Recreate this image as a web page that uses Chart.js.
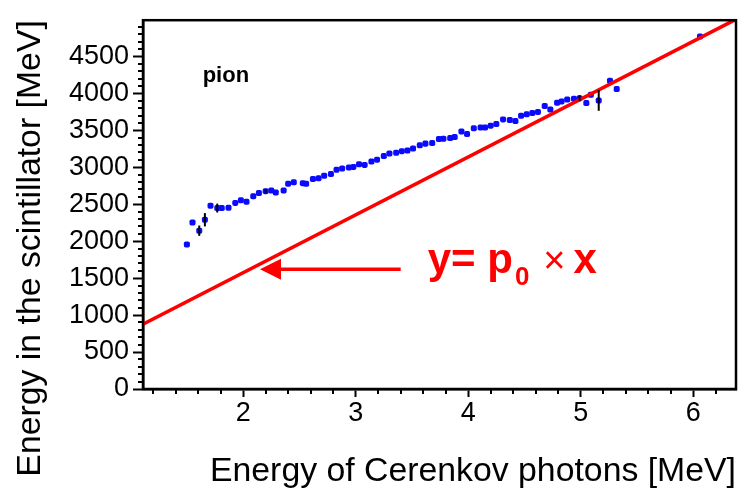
<!DOCTYPE html>
<html>
<head>
<meta charset="utf-8">
<script src="https://cdn.jsdelivr.net/npm/chart.js@4/dist/chart.umd.min.js"></script>
<style>
  html, body { margin: 0; padding: 0; background: #fff; }
  #wrap { width: 742px; height: 492px; }
</style>
</head>
<body>
<div id="wrap"><canvas id="c"></canvas></div>
<script>
// pion: energy of Cerenkov photons vs energy deposited in scintillator
const cerenkovE = [1.50, 1.55, 1.61, 1.66, 1.71, 1.77, 1.81, 1.87, 1.93, 1.98,
    2.03, 2.09, 2.14, 2.20, 2.25, 2.29, 2.36, 2.40, 2.45, 2.53,
    2.56, 2.62, 2.67, 2.72, 2.78, 2.83, 2.88, 2.94, 2.98, 3.03,
    3.08, 3.14, 3.19, 3.25, 3.30, 3.36, 3.41, 3.46, 3.51, 3.57,
    3.62, 3.68, 3.74, 3.78, 3.84, 3.88, 3.94, 3.99, 4.05, 4.11,
    4.15, 4.20, 4.25, 4.31, 4.37, 4.42, 4.47, 4.52, 4.57, 4.62,
    4.68, 4.73, 4.79, 4.83, 4.88, 4.94, 4.99, 5.05, 5.09, 5.16,
    5.26, 5.32, 6.06];
const scintE = [1956, 2253, 2142, 2290, 2479, 2448, 2448, 2453, 2518, 2553,
    2532, 2607, 2651, 2677, 2686, 2659, 2686, 2776, 2798, 2785,
    2776, 2842, 2851, 2886, 2910, 2966, 2984, 2997, 3005, 3041,
    3032, 3077, 3103, 3151, 3187, 3196, 3218, 3227, 3254, 3297,
    3320, 3329, 3382, 3386, 3395, 3409, 3484, 3449, 3528, 3537,
    3537, 3563, 3586, 3648, 3639, 3625, 3696, 3718, 3735, 3749,
    3829, 3781, 3874, 3891, 3918, 3927, 3935, 3869, 3980, 3904,
    4170, 4060, 4768];
const scintErr = [0, 0, 70, 90, 0, 60, 0, 0, 0, 0,
    0, 0, 0, 30, 0, 0, 0, 0, 0, 0,
    0, 0, 0, 0, 0, 0, 0, 0, 0, 0,
    0, 0, 0, 0, 0, 0, 0, 0, 0, 0,
    0, 0, 0, 0, 0, 0, 0, 0, 0, 0,
    0, 0, 0, 0, 0, 0, 0, 0, 0, 0,
    0, 0, 0, 0, 0, 0, 40, 0, 0, 140,
    0, 0, 0];

// fit line y = p0 * x, end points
const fitX = [1.11, 6.37];
const fitY = [876, 4995];

const xTicks = [2, 3, 4, 5, 6];
const yTicks = [0, 500, 1000, 1500, 2000, 2500, 3000, 3500, 4000, 4500];

const FONT = "'Liberation Sans', Arial, sans-serif";

const frameAndExtras = {
    id: "frameAndExtras",
    afterDatasetsDraw(chart) {
        const ctx = chart.ctx;
        const xs = chart.scales.x, ys = chart.scales.y;
        const a = chart.chartArea;
        ctx.save();

        // error bars
        ctx.strokeStyle = "#000";
        ctx.lineWidth = 2;
        scintErr.forEach((e, i) => {
            if (!e) return;
            const px = xs.getPixelForValue(cerenkovE[i]);
            ctx.beginPath();
            ctx.moveTo(px, ys.getPixelForValue(scintE[i] - e));
            ctx.lineTo(px, ys.getPixelForValue(scintE[i] + e));
            ctx.stroke();
        });

        // minor ticks
        ctx.lineWidth = 2;
        for (let v = 100; v < ys.max; v += 100) {
            if (v % 500 === 0) continue;
            const py = Math.round(ys.getPixelForValue(v));
            ctx.beginPath();
            ctx.moveTo(a.left - 5, py);
            ctx.lineTo(a.left, py);
            ctx.stroke();
        }
        for (let k = 6; k * 0.2 < xs.max; k++) {
            if (k % 5 === 0) continue;
            const px = Math.round(xs.getPixelForValue(k * 0.2));
            ctx.beginPath();
            ctx.moveTo(px, a.bottom);
            ctx.lineTo(px, a.bottom + 5);
            ctx.stroke();
        }

        // frame
        ctx.lineWidth = 2.5;
        ctx.strokeRect(a.left, a.top, a.right - a.left, a.bottom - a.top);

        // label
        ctx.fillStyle = "#000";
        ctx.font = "bold 22px " + FONT;
        ctx.textBaseline = "alphabetic";
        ctx.fillText("pion", xs.getPixelForValue(1.64), ys.getPixelForValue(4160));

        // arrow
        const ay = ys.getPixelForValue(1620);
        const tip = xs.getPixelForValue(2.15);
        const tail = xs.getPixelForValue(3.40);
        ctx.strokeStyle = "rgb(255,0,0)";
        ctx.fillStyle = "rgb(255,0,0)";
        ctx.lineWidth = 3.5;
        ctx.beginPath();
        ctx.moveTo(tail, ay);
        ctx.lineTo(tip + 18, ay);
        ctx.stroke();
        ctx.beginPath();
        ctx.moveTo(tip, ay);
        ctx.lineTo(tip + 21, ay - 10.5);
        ctx.lineTo(tip + 21, ay + 10.5);
        ctx.closePath();
        ctx.fill();

        // formula
        let tx = xs.getPixelForValue(3.64);
        const base = ys.getPixelForValue(1600) + 2;
        ctx.font = "bold 42px " + FONT;
        ctx.fillText("y= p", tx, base);
        tx += ctx.measureText("y= p").width + 2;
        ctx.font = "bold 26px " + FONT;
        ctx.fillText("0", tx, base + 12);
        tx += ctx.measureText("0").width + 14;
        ctx.font = "38px " + FONT;
        ctx.fillText("\u00d7", tx, base);
        tx += ctx.measureText("\u00d7").width + 8;
        ctx.font = "bold 42px " + FONT;
        ctx.fillText("x", tx, base);

        ctx.restore();
    }
};

new Chart(document.getElementById("c"), {
    type: "scatter",
    data: {
        datasets: [{
            type: "line",
            label: "fit",
            data: fitX.map((x, i) => ({ x: x, y: fitY[i] })),
            borderColor: "rgb(255,0,0)",
            borderWidth: 3.5,
            pointRadius: 0,
            order: 1
        }, {
            label: "pion",
            data: cerenkovE.map((x, i) => ({ x: x, y: scintE[i] })),
            backgroundColor: "rgb(10,10,255)",
            borderColor: "rgb(10,10,255)",
            pointStyle: "rectRounded",
            pointRadius: 3.5,
            borderWidth: 0,
            order: 2
        }]
    },
    options: {
        responsive: true,
        maintainAspectRatio: false,
        animation: false,
        layout: { padding: { top: 13, right: 6, left: 0, bottom: 0 } },
        plugins: {
            legend: { display: false },
            tooltip: { enabled: false }
        },
        scales: {
            x: {
                type: "linear",
                min: 1.11,
                max: 6.38,
                afterBuildTicks: s => { s.ticks = xTicks.map(v => ({ value: v })); },
                afterFit: s => { s.height = 103; },
                ticks: {
                    color: "#000",
                    font: { family: FONT, size: 27 },
                    padding: 0,
                    maxRotation: 0,
                    callback: v => String(v)
                },
                grid: {
                    drawOnChartArea: false,
                    color: "#000",
                    tickColor: "#000",
                    tickLength: 8,
                    tickWidth: 2
                },
                border: { color: "#000", width: 2.5 },
                title: {
                    display: true,
                    text: "Energy of Cerenkov photons [MeV]",
                    align: "end",
                    color: "#000",
                    font: { family: FONT, size: 33.8 },
                    padding: { top: 0, bottom: 0 }
                }
            },
            y: {
                type: "linear",
                min: 0,
                max: 4990,
                afterBuildTicks: s => { s.ticks = yTicks.map(v => ({ value: v })); },
                afterFit: s => { s.width = 143; },
                ticks: {
                    color: "#000",
                    font: { family: FONT, size: 27 },
                    padding: 4,
                    callback: v => String(v)
                },
                grid: {
                    drawOnChartArea: false,
                    color: "#000",
                    tickColor: "#000",
                    tickLength: 10,
                    tickWidth: 2
                },
                border: { color: "#000", width: 2.5 },
                title: {
                    display: true,
                    text: "Energy in the scintillator [MeV]",
                    align: "end",
                    color: "#000",
                    font: { family: FONT, size: 33.8 },
                    padding: { top: 10, bottom: 10 }
                }
            }
        }
    },
    plugins: [frameAndExtras]
});
</script>
</body>
</html>
